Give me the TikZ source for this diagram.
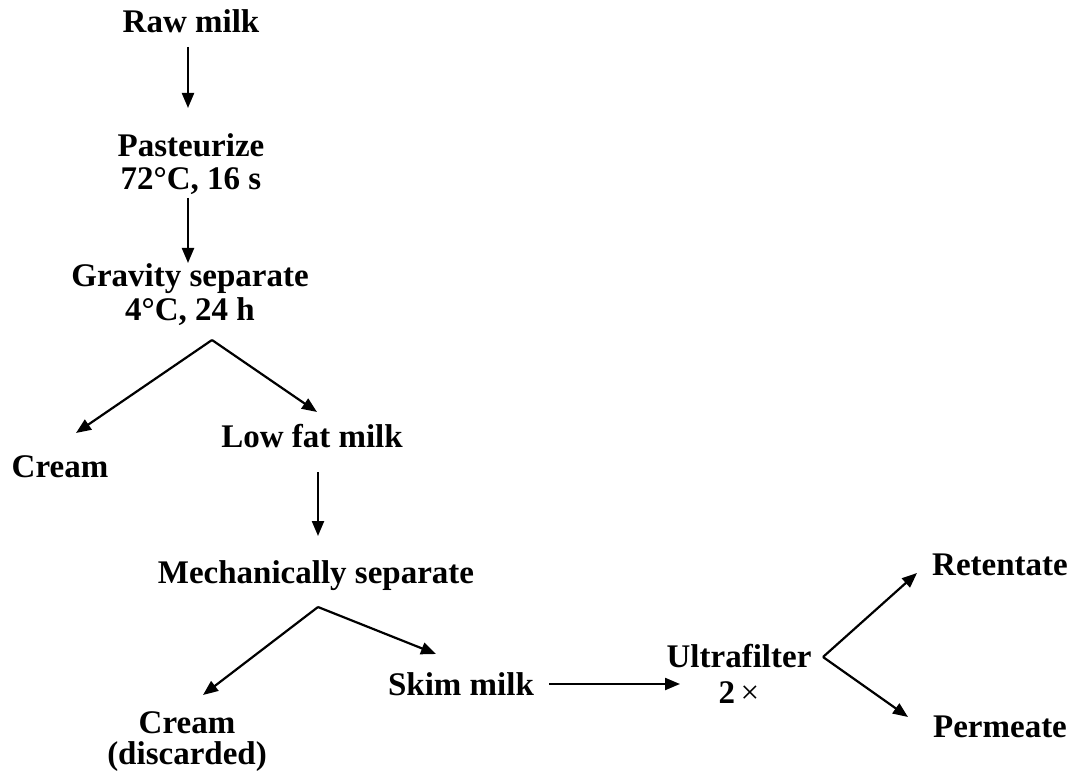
\documentclass[tikz,border=0pt]{standalone}
\usepackage{fontspec}
\setmainfont{Liberation Serif}
\usetikzlibrary{arrows.meta}
\tikzset{
  lbl/.style={anchor=base, inner sep=0pt, align=center, font=\fontsize{33}{33}\selectfont\bfseries},
  arr/.style={line width=2.2pt, -{Triangle[length=15pt,width=12pt]}}
}
\begin{document}
\begin{tikzpicture}[x=1pt,y=-1pt]
\useasboundingbox (0,0) rectangle (1072,778);
% nodes (anchor base = baseline of the last line)
\node[lbl] (raw) at (191,33) {Raw milk};
\node[lbl] (past) at (191,190) {Pasteurize\\[0pt]72°C, 16 s};
\node[lbl] (grav) at (190,320) {Gravity separate\\[0pt]4°C, 24 h};
\node[lbl] (creamA) at (60,477) {Cream};
\node[lbl] (lowfat) at (312,447) {Low fat milk};
\node[lbl] (mech) at (316,583) {Mechanically separate};
\node[lbl] (skim) at (461,695) {Skim milk};
\node[lbl] (creamB) at (187,764) {Cream\\[-2pt](discarded)};
\node[lbl] (ultra) at (739,703) {Ultrafilter\\[3pt]2\,{\mdseries ×}};
\node[lbl] (ret) at (1000,575) {Retentate};
\node[lbl] (perm) at (1000,737) {Permeate};
% connector coordinates
\coordinate (rawS) at (188,47);
\coordinate (pastN) at (188,108);
\coordinate (pastS) at (188,198);
\coordinate (gravN) at (188,263);
\coordinate (gApex) at (212,340);
\coordinate (creamAN) at (76,433);
\coordinate (lowfatN) at (317,412);
\coordinate (lowfatS) at (318,472);
\coordinate (mechN) at (318,536);
\coordinate (mApex) at (318,607);
\coordinate (creamBN) at (203,695);
\coordinate (skimN) at (436,654);
\coordinate (skimE) at (549,684);
\coordinate (ultraW) at (680,684);
\coordinate (uApex) at (823,657);
\coordinate (retW) at (917,573);
\coordinate (permW) at (908,717);
% connectors
\draw[arr] (rawS) -- (pastN);
\draw[arr] (pastS) -- (gravN);
\draw[arr] (gApex) -- (creamAN);
\draw[arr] (gApex) -- (lowfatN);
\draw[arr] (lowfatS) -- (mechN);
\draw[arr] (mApex) -- (creamBN);
\draw[arr] (mApex) -- (skimN);
\draw[arr] (skimE) -- (ultraW);
\draw[arr] (uApex) -- (retW);
\draw[arr] (uApex) -- (permW);
\end{tikzpicture}
\end{document}
